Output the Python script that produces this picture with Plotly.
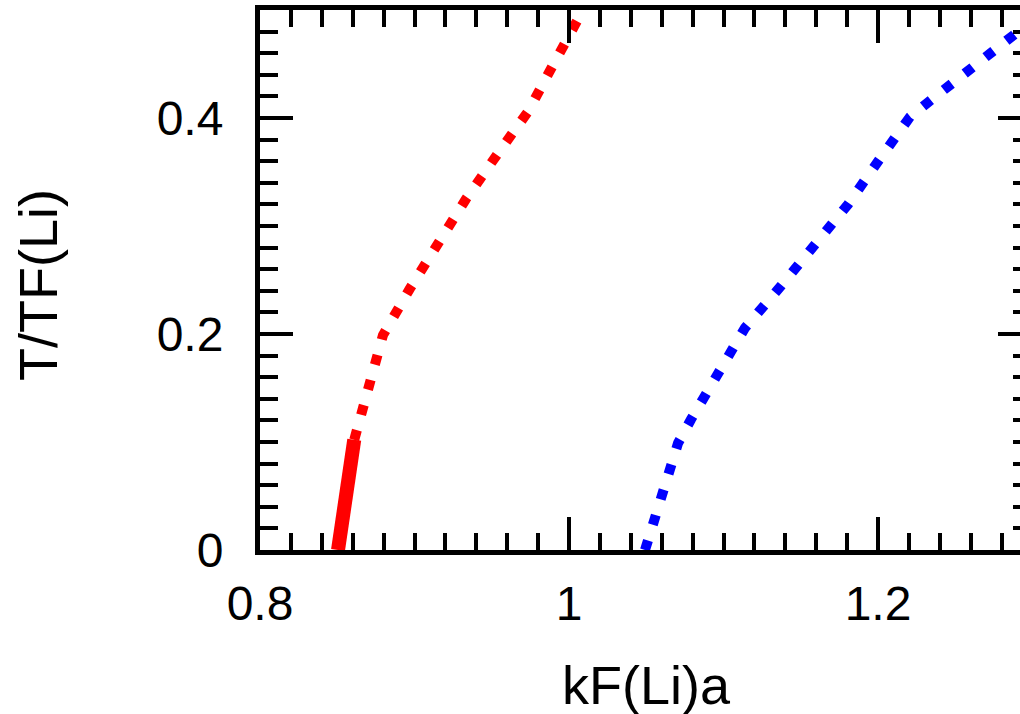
import plotly.graph_objects as go

# Data
red_solid_x = [0.8505, 0.8555, 0.861]
red_solid_y = [0.0, 0.05, 0.102]

red_dot_x = [0.861, 0.8654, 0.8705, 0.875, 0.8796, 0.897, 0.9146, 0.9333, 0.9534, 0.9735, 0.990, 1.0078, 1.0110]
red_dot_y = [0.102, 0.127, 0.15, 0.174, 0.199, 0.242, 0.284, 0.325, 0.366, 0.406, 0.45, 0.4926, 0.505]

blue_dot_x = [1.0492, 1.0654, 1.0706, 1.079, 1.0958, 1.1139, 1.1366, 1.1592, 1.1806, 1.2006, 1.2207, 1.2343, 1.2485, 1.2751, 1.288, 1.305]
blue_dot_y = [0.0, 0.076, 0.099, 0.121, 0.164, 0.2056, 0.2435, 0.2815, 0.320, 0.361, 0.401, 0.4167, 0.432, 0.461, 0.477, 0.497]

x_tickvals = [0.8, 1.0, 1.2]
x_ticktext = ["0.8", "1", "1.2"]
y_tickvals = [0, 0.2, 0.4]
y_ticktext = ["0", "0.2", "0.4"]

x_title = "kF(Li)a"
y_title = "T/TF(Li)"

W, H = 1020, 714
L, R, T, B = 260, 0, 10, 714 - 550
PW, PH = W - L - R, H - T - B
px_per_x = 1545.0
x_min = 0.8
x_max = x_min + PW / px_per_x
y_min, y_max = 0.0, 0.5


def sx(screen_x):
    return (screen_x - L) / PW


def sy(screen_y):
    return (H - B - screen_y) / PH


FONT = "Liberation Sans, Arial, Helvetica, sans-serif"

fig = go.Figure()
fig.add_trace(go.Scatter(x=red_solid_x, y=red_solid_y, mode="lines",
                         line=dict(color="#ff0000", width=14), showlegend=False))
fig.add_trace(go.Scatter(x=red_dot_x, y=red_dot_y, mode="lines",
                         line=dict(color="#ff0000", width=10, dash="10px,16px"), showlegend=False))
fig.add_trace(go.Scatter(x=blue_dot_x, y=blue_dot_y, mode="lines",
                         line=dict(color="#0000ff", width=10, dash="10px,16.5px"), showlegend=False))
# empty trace to activate right-side tick axis
fig.add_trace(go.Scatter(x=[], y=[], yaxis="y2", showlegend=False, hoverinfo="skip"))

fig.update_layout(
    width=W, height=H,
    margin=dict(l=L, r=R, t=T, b=B, pad=0),
    paper_bgcolor="white", plot_bgcolor="white",
    font=dict(family=FONT, color="black"),
    xaxis=dict(range=[x_min, x_max], showgrid=False, zeroline=False,
               showline=True, linecolor="black", linewidth=5, mirror="ticks",
               ticks="inside", ticklen=33, tickwidth=4, tickcolor="black",
               tickvals=x_tickvals, ticktext=x_ticktext,
               tickfont=dict(size=48, family=FONT, color="black"),
               ticklabelstandoff=7,
               minor=dict(dtick=0.02, tick0=0.8, ticks="inside", ticklen=17, tickwidth=4, tickcolor="black", showgrid=False)),
    yaxis=dict(range=[y_min, y_max], showgrid=False, zeroline=False,
               showline=True, linecolor="black", linewidth=5, mirror=False,
               ticks="inside", ticklen=33, tickwidth=4, tickcolor="black",
               tickvals=y_tickvals, ticktext=y_ticktext,
               tickfont=dict(size=48, family=FONT, color="black"),
               ticklabelstandoff=22,
               minor=dict(dtick=0.02, tick0=0, ticks="inside", ticklen=18, tickwidth=4, tickcolor="black", showgrid=False)),
    yaxis2=dict(range=[y_min, y_max], overlaying="y", side="right", showgrid=False, zeroline=False,
                showline=False, ticks="inside", ticklen=22, tickwidth=4, tickcolor="black",
                tickvals=y_tickvals, showticklabels=False,
                minor=dict(dtick=0.02, tick0=0, ticks="inside", ticklen=7, tickwidth=4, tickcolor="black", showgrid=False)),
    annotations=[
        dict(text=x_title, xref="x", yref="paper", x=1.05, y=sy(685),
             xanchor="center", yanchor="middle", showarrow=False,
             font=dict(size=54, family=FONT, color="black")),
        dict(text=y_title, xref="paper", yref="paper", x=sx(38), y=sy(285),
             xanchor="center", yanchor="middle", showarrow=False, textangle=-90,
             font=dict(size=54, family=FONT, color="black")),
    ],
)

page_css = ("document.documentElement.style.margin='0';"
            "document.documentElement.style.overflow='hidden';"
            "document.body.style.margin='0';"
            "document.body.style.overflow='hidden';")

fig.write_html("out.html", post_script=page_css, config={"displayModeBar": False})
